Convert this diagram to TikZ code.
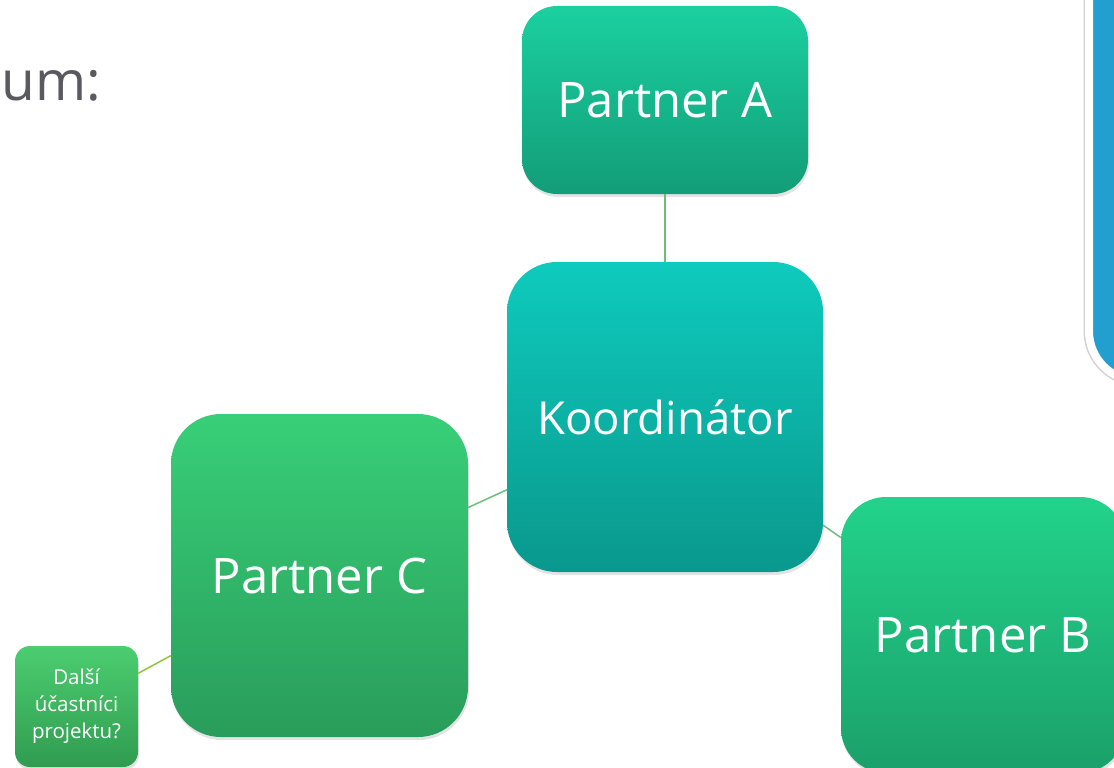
\documentclass[tikz,border=0pt]{standalone}
\usepackage{fontspec}
\setmainfont{Open Sans}
\usetikzlibrary{shapes,shadows,positioning}

\definecolor{aTop}{RGB}{27,208,160}
\definecolor{aBot}{RGB}{18,157,120}
\definecolor{kTop}{RGB}{14,203,189}
\definecolor{kBot}{RGB}{10,152,141}
\definecolor{bTop}{RGB}{34,211,139}
\definecolor{bBot}{RGB}{27,160,106}
\definecolor{cTop}{RGB}{56,207,120}
\definecolor{cBot}{RGB}{41,157,91}
\definecolor{dTop}{RGB}{76,205,112}
\definecolor{dBot}{RGB}{48,156,80}
\definecolor{infoblue}{RGB}{34,159,207}
\definecolor{linkgreen}{RGB}{108,190,122}
\definecolor{linklime}{RGB}{140,198,63}
\definecolor{titlegray}{RGB}{89,89,95}

\begin{document}
\begin{tikzpicture}[x=1pt,y=-1pt,
  box/.style={rectangle,inner sep=0,text=white,align=center,
    drop shadow={opacity=0.22,shadow xshift=1pt,shadow yshift=-3pt}},
  big/.style={font=\fontsize{49}{60}\selectfont},
  link/.style={draw=linkgreen,line width=1.5}]

\useasboundingbox (0,0) rectangle (1114,768);
\clip (0,0) rectangle (1114,768);

\node[anchor=base west,text=titlegray,font=\fontsize{55}{64}\selectfont] (title) at (-2,100) {um:};

\node[box,big,rounded corners=35,top color=aTop,bottom color=aBot,minimum width=286,minimum height=188] (partA) at (665,100) {Partner A};
\node[box,rounded corners=50,top color=kTop,bottom color=kBot,minimum width=316,minimum height=310,font=\fontsize{45.5}{56}\selectfont] (koord) at (665,417) {Koordinátor};
\node[box,big,rounded corners=50,top color=cTop,bottom color=cBot,minimum width=297,minimum height=323] (partC) at (319.5,575.5) {Partner C};
\node[box,big,rounded corners=45,top color=bTop,bottom color=bBot,minimum width=284,minimum height=276] (partB) at (983,635) {Partner B};
\node[box,rounded corners=15,top color=dTop,bottom color=dBot,minimum width=123,minimum height=121,font=\fontsize{20.5}{27}\selectfont] (dalsi) at (76.5,706.5) {Další\\účastníci\\projektu?};

\node[box,preaction={draw=black!18,line width=11},draw=white,line width=8,fill=infoblue,rounded corners=50,minimum width=120,minimum height=450] (info) at (1149,156) {};

\draw[link] (partA) -- (koord);
\draw[link] (koord) -- (partC);
\draw[link] (koord) -- (partB);
\draw[link,draw=linklime] (partC) -- (dalsi);

\end{tikzpicture}
\end{document}
